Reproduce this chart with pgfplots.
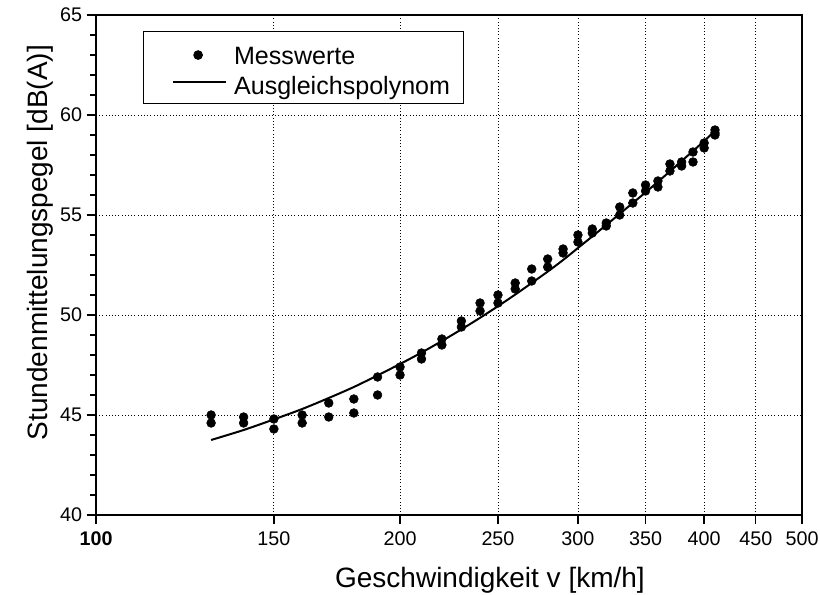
\documentclass[border=0pt]{standalone}
\usepackage{fontspec}
\setmainfont{Liberation Sans}
\usepackage{pgfplots}
\pgfplotsset{compat=1.18}
\begin{document}
\begin{tikzpicture}
\begin{axis}[
  scale only axis,
  width=529.5pt, height=375pt,
  xmode=log,
  xmin=100, xmax=500,
  ymin=40, ymax=65,
  xtick={100,150,200,250,300,350,400,450,500},
  xticklabels={\textbf{100},150,200,250,300,350,400,450,500},
  minor xtick={},
  ytick={40,45,50,55,60,65},
  minor y tick num=4,
  /pgf/number format/assume math mode=true,
  tick label style={font=\fontsize{14.8}{17}\selectfont},
  xticklabel style={yshift=-2pt},
  tick pos=left,
  tick align=outside,
  major tick length=7pt,
  minor tick length=4.5pt,
  every tick/.style={black, line width=1pt},
  axis line style={line width=1.3pt},
  grid=major,
  major grid style={black, dotted, line width=0.6pt},
  xlabel={Geschwindigkeit v [km/h]},
  ylabel={Stundenmittelungspegel [dB(A)]},
  every axis x label/.style={at={(axis description cs:0.558,-0.13)}, anchor=center, font=\fontsize{21}{24}\selectfont},
  every axis y label/.style={at={(axis description cs:-0.079,0.545)}, rotate=90, anchor=center, font=\fontsize{21}{24}\selectfont},
  legend style={at={(axis description cs:0.0666,0.968)}, anchor=north west,
    draw=black, line width=0.6pt, fill=white,
    font=\fontsize{18.8}{22}\selectfont,
    inner xsep=8pt, inner ysep=2pt, row sep=-5pt,
    nodes={inner xsep=2pt, inner ysep=0pt, text height=23pt, text depth=4.5pt}},
  legend cell align=left,
]
\addplot[only marks, mark=*, mark size=3.3pt, black,
  legend image code/.code={\path[draw=none,fill=none] (0pt,-3pt) rectangle (58pt,3pt); \fill[black] (33pt,-2pt) circle (3.3pt);}]
  coordinates {
  (130,45.0) (130,44.6)
  (140,44.9) (140,44.6)
  (150,44.8) (150,44.3)
  (160,45.0) (160,44.6)
  (170,45.6) (170,44.9)
  (180,45.8) (180,45.1)
  (190,46.9) (190,46.0)
  (200,47.4) (200,47.0)
  (210,48.1) (210,47.8)
  (220,48.8) (220,48.5)
  (230,49.7) (230,49.4)
  (240,50.6) (240,50.2)
  (250,51.0) (250,50.6)
  (260,51.6) (260,51.3)
  (270,52.3) (270,51.7)
  (280,52.8) (280,52.4)
  (290,53.3) (290,53.1)
  (300,54.0) (300,53.65)
  (310,54.3) (310,54.1)
  (320,54.6) (320,54.45)
  (330,55.4) (330,55.0)
  (340,56.1) (340,55.6)
  (350,56.5) (350,56.2)
  (360,56.7) (360,56.4)
  (370,57.55) (370,57.2)
  (380,57.65) (380,57.45)
  (390,58.15) (390,57.65)
  (400,58.6) (400,58.35)
  (410,59.25) (410,59.1) (410,59.0)
  };
\addlegendentry{Messwerte}
\addplot[black, line width=1.5pt, smooth,
  legend image code/.code={\path[draw=none,fill=none] (0pt,-3pt) rectangle (58pt,3pt); \draw[black, line width=1.5pt] (14pt,0pt) -- (54pt,0pt);}]
  coordinates {
  (130,43.75) (140,44.25) (150,44.78) (160,45.3) (170,45.85) (180,46.4)
  (190,46.98) (200,47.55) (210,48.12) (220,48.7) (230,49.28) (240,49.86)
  (250,50.44) (260,51.02) (270,51.6) (280,52.17) (290,52.75) (300,53.35)
  (310,53.93) (320,54.5) (330,55.06) (340,55.6) (350,56.13) (360,56.66)
  (370,57.18) (380,57.7) (390,58.2) (400,58.7) (410,59.2)
  };
\addlegendentry{Ausgleichspolynom}
\end{axis}
\pgfresetboundingbox
\path (current axis.south west) ++(-72pt,-60pt) coordinate (bbA);
\path (current axis.north east) ++(13.5pt,11.25pt) coordinate (bbB);
\path[use as bounding box] (bbA) rectangle (bbB);
\end{tikzpicture}
\end{document}
